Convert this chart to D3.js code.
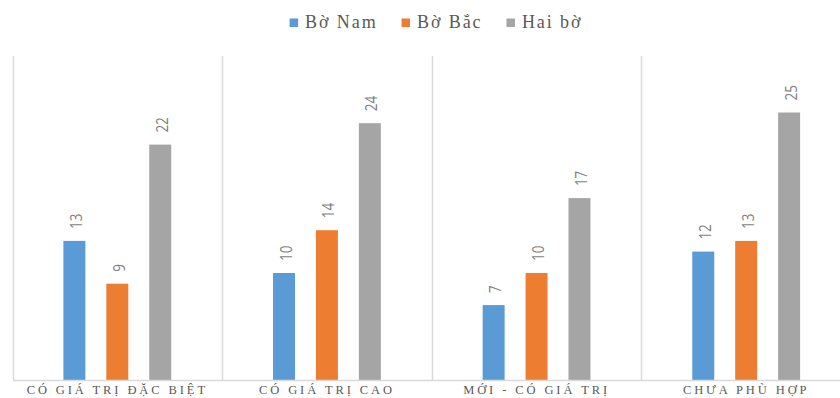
<!DOCTYPE html>
<html><head><meta charset="utf-8">
<script src="https://cdn.jsdelivr.net/npm/d3@7"></script>
<style>body{margin:0;background:#fff;}svg{display:block;}</style>
</head><body>
<script>
const categories = ["CÓ GIÁ TRỊ ĐẶC BIỆT", "CÓ GIÁ TRỊ CAO", "MỚI - CÓ GIÁ TRỊ", "CHƯA PHÙ HỢP"];
const seriesNames = ["Bờ Nam", "Bờ Bắc", "Hai bờ"];
const boNam = [13, 10, 7, 12];
const boBac = [9, 14, 10, 13];
const haiBo = [22, 24, 17, 25];
const colors = ["#5B9BD5", "#ED7D31", "#A5A5A5"];
const seriesValues = [boNam, boBac, haiBo];

const W = 840, H = 398;
const svg = d3.select("body").append("svg").attr("width", W).attr("height", H);

const x0 = d3.scaleBand().domain(categories).range([12.5, 851]).paddingInner(0).paddingOuter(0);
const x1 = d3.scaleBand().domain(seriesNames).range([0, x0.bandwidth()]).paddingInner(0.488).paddingOuter(1.186);
const y = d3.scaleLinear().domain([0, 30]).range([380, 59]);
const plotTop = 56;

// vertical dividers
svg.append("g").selectAll("line").data(categories).join("line")
  .attr("x1", d => Math.round(x0(d)) + 0.5).attr("x2", d => Math.round(x0(d)) + 0.5)
  .attr("y1", plotTop).attr("y2", y(0))
  .attr("stroke", "#D9D9D9").attr("stroke-width", 1.5);

// bars
const data = [];
categories.forEach((c, i) => seriesNames.forEach((s, j) => data.push({c, s, v: seriesValues[j][i], col: colors[j]})));
svg.append("g").selectAll("rect").data(data).join("rect")
  .attr("x", d => x0(d.c) + x1(d.s)).attr("width", x1.bandwidth())
  .attr("y", d => y(d.v)).attr("height", d => y(0) - y(d.v))
  .attr("fill", d => d.col);

// baseline axis
const xAxis = d3.axisBottom(x0).tickSize(0).tickPadding(0).tickFormat("");
const ax = svg.append("g").attr("transform", `translate(0,${y(0)})`).call(xAxis);
ax.select(".domain").attr("stroke", "#D9D9D9").attr("stroke-width", 1.5);

// category labels
svg.append("g").selectAll("text").data(categories).join("text")
  .attr("x", d => x0(d) + x0.bandwidth() / 2).attr("y", 394)
  .attr("text-anchor", "middle")
  .attr("font-family", "Liberation Serif, Times New Roman, serif")
  .attr("font-size", 12.5).attr("letter-spacing", 2.9)
  .attr("fill", "#595959")
  .text(d => d);

// value labels
svg.append("g").selectAll("text").data(data).join("text")
  .attr("transform", d => `translate(${x0(d.c) + x1(d.s) + x1.bandwidth() / 2 + 1},${y(d.v) - 12}) rotate(-90) scale(1,1.2)`)
  .attr("text-anchor", "start").attr("dominant-baseline", "central")
  .attr("font-family", "Open Sans, Liberation Sans, sans-serif")
  .attr("font-size", 13.5).attr("fill", "#7F7F7F")
  .text(d => d.v);

// legend
const leg = svg.append("g");
const items = leg.selectAll("g").data(seriesNames).join("g");
items.append("rect").attr("width", 8.5).attr("height", 8.5).attr("y", 18.5)
  .attr("fill", (d, i) => colors[i]);
items.append("text").attr("x", 15.5).attr("y", 27.5)
  .attr("font-family", "Liberation Serif, Times New Roman, serif")
  .attr("font-size", 18).attr("letter-spacing", 1.9).attr("fill", "#595959")
  .text(d => d);
let cx = 0;
const gap = 24;
items.each(function () {
  const w = this.getBBox().width;
  d3.select(this).attr("transform", `translate(${cx},0)`);
  cx += w + gap;
});
const total = cx - gap;
leg.attr("transform", `translate(${436 - total / 2},0)`);
</script>
</body></html>
